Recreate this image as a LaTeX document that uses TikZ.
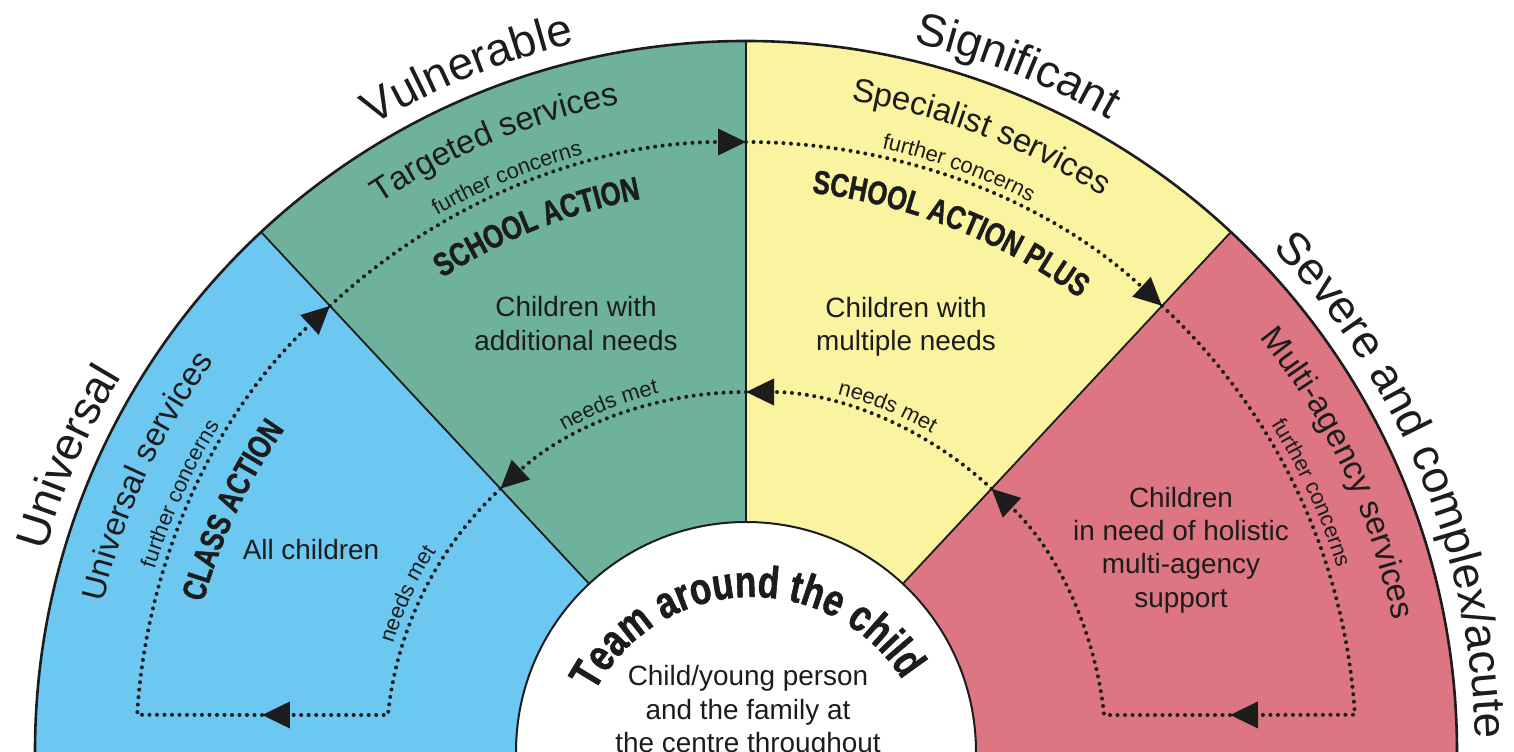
\documentclass[tikz,border=0pt]{standalone}
\usepackage{fontspec}
\setmainfont{Liberation Sans}
\newfontfamily\condfont[FakeStretch=0.78, FakeBold=1.2]{Liberation Sans}
\usetikzlibrary{arrows.meta,decorations.text}

\definecolor{univ}{HTML}{6CC8F0}
\definecolor{targ}{HTML}{6EB29E}
\definecolor{spec}{HTML}{FAF3A0}
\definecolor{multi}{HTML}{DD7583}
\definecolor{ink}{HTML}{1C1C1C}

% type sizes for the curved captions
\newcommand\fouter{\fontsize{46}{46}\selectfont}
\newcommand\fservice{\fontsize{33}{33}\selectfont}
\newcommand\fsmall{\fontsize{22}{22}\selectfont}
\newcommand\faction{\condfont\bfseries\fontsize{33}{33}\selectfont}
\newcommand\fteam{\condfont\bfseries\fontsize{45}{45}\selectfont}

% text set along a clockwise arc: radius, middle angle, half span, format, text
\newcommand\curvedlabel[5]{%
  \path[decorate, decoration={text along path, text align=center,
        text color=ink, text={|#4|#5}}]
    ({#2+#3}:#1) arc[start angle={#2+#3}, end angle={#2-#3}, radius=#1];
}

\begin{document}
\begin{tikzpicture}[x=1bp, y=1bp,
  edge/.style={draw=ink, line width=1.8bp},
  dots/.style={draw=ink, line width=4bp, line cap=round, dash pattern=on 0bp off 7.5bp},
  tip/.style={-{Triangle[length=28bp, width=26bp]}},
  body/.style={font=\fontsize{28}{33.5}\selectfont, text=ink, align=center, inner sep=0pt},
]
\useasboundingbox (-746,0) rectangle (768,752);

% the four bands of the half wheel
\fill[univ]  (0,0) -- (180:711) arc[start angle=180, end angle=133, radius=711] -- cycle;
\fill[targ]  (0,0) -- (133:711) arc[start angle=133, end angle=90,  radius=711] -- cycle;
\fill[spec]  (0,0) -- (90:711)  arc[start angle=90,  end angle=47,  radius=711] -- cycle;
\fill[multi] (0,0) -- (47:711)  arc[start angle=47,  end angle=0,   radius=711] -- cycle;

% dividers
\draw[edge] (133:230) -- (133:711);
\draw[edge] (90:230)  -- (90:711);
\draw[edge] (47:230)  -- (47:711);

% centre disc
\fill[white] (230,0) arc[start angle=0, end angle=180, radius=230] -- cycle;
\draw[edge, line width=2bp] (230,0) arc[start angle=0, end angle=180, radius=230];

% outer rim
\draw[ink, line width=2.6bp] (711,0) arc[start angle=0, end angle=180, radius=711];

% points on the dotted loops
\coordinate (gbI) at (133:360);
\coordinate (gbO) at (133:610);
\coordinate (gyI) at (90:360);
\coordinate (gyO) at (90:610);
\coordinate (ypI) at (47:360);
\coordinate (ypO) at (47:610);
\coordinate (blM) at (-484,37);
\coordinate (blO) at (176.5:610);
\coordinate (pkM) at (484,37);
\coordinate (pkI) at (5.9:360);

% dotted loops with arrow heads
\draw[dots, tip] (gbI) arc[start angle=133, end angle=174.1, radius=360] -- (blM);
\draw[dots, tip] (blM) -- (blO) arc[start angle=176.5, end angle=133, radius=610];
\draw[dots, tip] (gbO) arc[start angle=133, end angle=90, radius=610];
\draw[dots, tip] (gyO) arc[start angle=90, end angle=47, radius=610];
\draw[dots, tip] (ypO) arc[start angle=47, end angle=3.5, radius=610] -- (pkM);
\draw[dots, tip] (pkM) -- (pkI) arc[start angle=5.9, end angle=47, radius=360];
\draw[dots, tip] (ypI) arc[start angle=47, end angle=90, radius=360];
\draw[dots, tip] (gyI) arc[start angle=90, end angle=133, radius=360];

% level names outside the rim
\curvedlabel{729}{156.5}{22}{\fouter}{Universal}
\curvedlabel{729}{112.2}{22}{\fouter}{Vulnerable}
\curvedlabel{729}{68.4}{22}{\fouter}{Significant}
\curvedlabel{729}{22.4}{30}{\fouter}{Severe and complex/acute}

% service names inside the rim
\curvedlabel{660}{155.3}{24}{\fservice}{Universal services}
\curvedlabel{660}{112.4}{24}{\fservice}{Targeted services}
\curvedlabel{660}{69.1}{24}{\fservice}{Specialist services}
\curvedlabel{660}{25.2}{24}{\fservice}{Multi-agency services}

% outer loop captions
\curvedlabel{619}{155.5}{20}{\fsmall}{further concerns}
\curvedlabel{619}{112.6}{20}{\fsmall}{further concerns}
\curvedlabel{619}{70}{20}{\fsmall}{further concerns}
\curvedlabel{619}{24.6}{20}{\fsmall}{further concerns}

% action captions
\curvedlabel{563}{154.8}{22}{\faction}{CLASS ACTION}
\curvedlabel{563}{111.7}{22}{\faction}{SCHOOL ACTION}
\curvedlabel{563}{68.5}{22}{\faction}{SCHOOL ACTION PLUS}

% inner loop captions
\curvedlabel{369}{155}{20}{\fsmall}{needs met}
\curvedlabel{369}{111.6}{20}{\fsmall}{needs met}
\curvedlabel{369}{67.7}{20}{\fsmall}{needs met}

% title of the centre disc
\begin{scope}[shift={(6,-23)}]
  \curvedlabel{178}{92.25}{80}{\fteam}{Team around the child}
\end{scope}

% plain captions
\node[body, anchor=base] (allkids) at (-435,192) {All children};
\node[body] (addl) at (-170,428.5) {Children with\\additional needs};
\node[body] (mult) at (160,425.5) {Children with\\multiple needs};
\node[body] (holist) at (435,202) {Children\\in need of holistic\\multi-agency\\support};
\node[body] (centre) at (2,40) {Child/young person\\and the family at\\the centre throughout};
\end{tikzpicture}
\end{document}
